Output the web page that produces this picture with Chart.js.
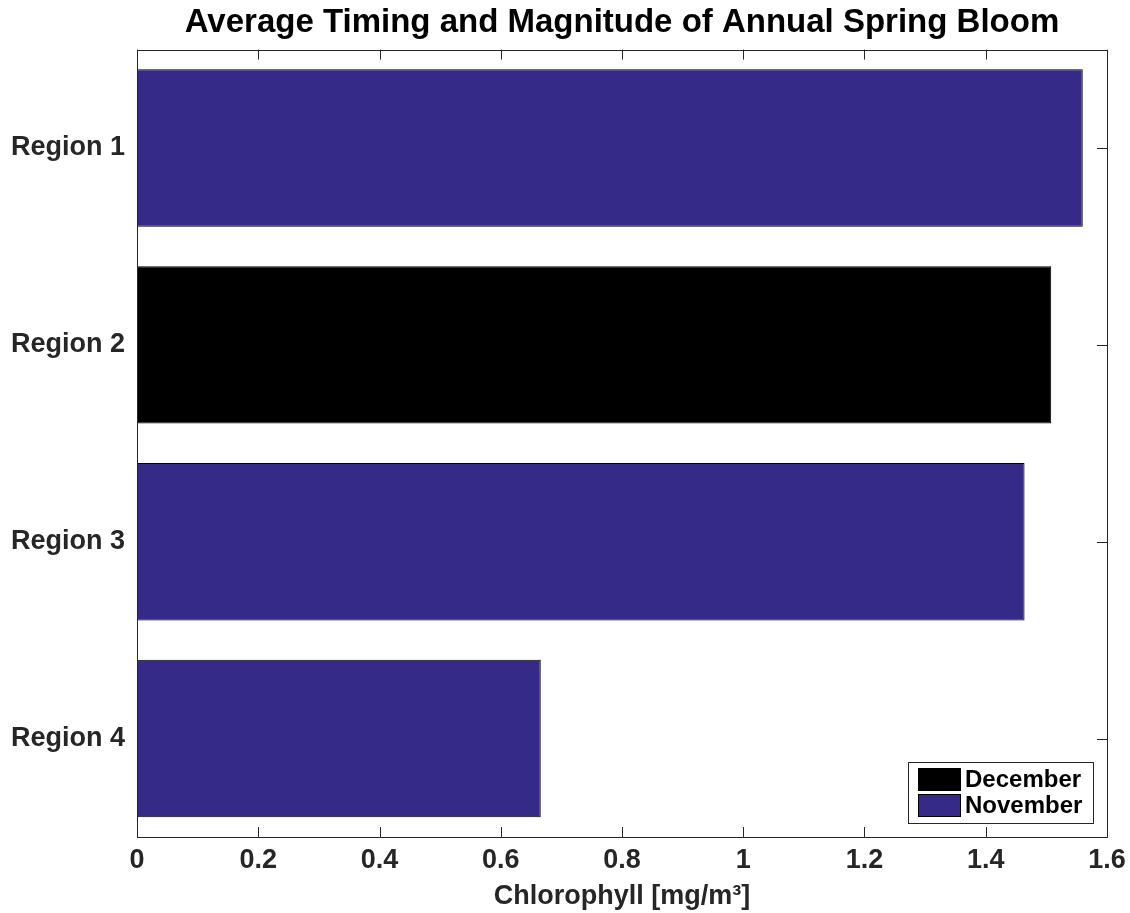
<!DOCTYPE html>
<html>
<head>
<meta charset="utf-8">
<script src="https://cdn.jsdelivr.net/npm/chart.js@4"></script>
<style>
  html, body { margin: 0; padding: 0; background: #fff; }
  #wrap { width: 1130px; height: 913px; }
</style>
</head>
<body>
<div id="wrap"><canvas id="bloomChart" width="1130" height="913"></canvas></div>
<script>
// Chart data
const categories = ['Region 1', 'Region 2', 'Region 3', 'Region 4'];
const chlorophyll = [1.56, 1.508, 1.464, 0.666];
const bloomMonth = ['November', 'December', 'November', 'November'];
const legendMonths = ['December', 'November'];
const monthColors = { December: '#000000', November: '#352a87' };
const xTicks = [0, 0.2, 0.4, 0.6, 0.8, 1, 1.2, 1.4, 1.6];

const FONT = '"Liberation Sans", Arial, Helvetica, sans-serif';
const AXIS_COLOR = '#262626';

/**
 * Centre the title over the plot area instead of the whole canvas
 */
const titleOverAreaPlugin = {
    id: 'titleOverArea',
    afterLayout(chart) {
        const tb = chart.titleBlock;
        if (tb) {
            tb.left = chart.chartArea.left;
            tb.right = chart.chartArea.right;
            tb.width = tb.right - tb.left;
        }
    }
};

/**
 * Box around the plot area plus MATLAB-style inward ticks
 */
const boxTicksPlugin = {
    id: 'boxTicks',
    afterDatasetsDraw(chart) {
        const { ctx, chartArea: a, scales } = chart;
        const len = 10;
        ctx.save();
        ctx.strokeStyle = AXIS_COLOR;
        ctx.lineWidth = 1;
        ctx.beginPath();
        xTicks.forEach(v => {
            const x = Math.round(scales.x.getPixelForValue(v)) + 0.5;
            ctx.moveTo(x, a.bottom); ctx.lineTo(x, a.bottom - len);
            ctx.moveTo(x, a.top); ctx.lineTo(x, a.top + len);
        });
        categories.forEach((c, i) => {
            const y = Math.round(scales.y.getPixelForValue(i)) + 0.5;
            ctx.moveTo(a.right, y); ctx.lineTo(a.right - len, y);
        });
        ctx.stroke();
        ctx.strokeRect(Math.round(a.left) + 0.5, Math.round(a.top) + 0.5,
            Math.round(a.right - a.left), Math.round(a.bottom - a.top));
        ctx.restore();
    }
};

/**
 * Legend drawn inside the lower right corner of the plot area
 */
const insideLegendPlugin = {
    id: 'insideLegend',
    afterDraw(chart) {
        const { ctx, chartArea: a } = chart;
        const w = 185, h = 61;
        const x0 = a.right - 14 - w, y0 = a.bottom - 14 - h;
        ctx.save();
        ctx.fillStyle = '#fff';
        ctx.fillRect(x0, y0, w, h);
        ctx.strokeStyle = AXIS_COLOR;
        ctx.lineWidth = 1;
        ctx.strokeRect(Math.round(x0) + 0.5, Math.round(y0) + 0.5, w, h);
        ctx.font = 'bold 24px ' + FONT;
        ctx.textBaseline = 'middle';
        legendMonths.forEach((m, i) => {
            const cy = y0 + 17 + i * 26;
            ctx.fillStyle = monthColors[m];
            ctx.fillRect(x0 + 10, cy - 11, 42, 22);
            ctx.strokeStyle = '#000';
            ctx.strokeRect(x0 + 10.5, cy - 10.5, 42, 22);
            ctx.fillStyle = '#000';
            ctx.fillText(m, x0 + 57, cy + 1);
        });
        ctx.restore();
    }
};

document.addEventListener('DOMContentLoaded', function() {
    const ctx = document.getElementById('bloomChart').getContext('2d');
    new Chart(ctx, {
        type: 'bar',
        data: {
            labels: categories,
            datasets: [{
                label: 'Chlorophyll',
                data: chlorophyll,
                backgroundColor: bloomMonth.map(m => monthColors[m]),
                borderColor: '#000',
                borderWidth: 1,
                borderSkipped: false,
                barPercentage: 0.8,
                categoryPercentage: 1.0
            }]
        },
        options: {
            indexAxis: 'y',
            responsive: false,
            animation: false,
            layout: { padding: { left: 0, right: 23, top: 0, bottom: 0 } },
            plugins: {
                legend: { display: false },
                tooltip: { enabled: false },
                title: {
                    display: true,
                    text: 'Average Timing and Magnitude of Annual Spring Bloom',
                    color: '#000',
                    font: { family: FONT, size: 33, weight: 'bold', lineHeight: 1.2 },
                    padding: { top: 3, bottom: 7 }
                }
            },
            scales: {
                x: {
                    type: 'linear',
                    min: 0,
                    max: 1.6,
                    afterBuildTicks: scale => { scale.ticks = xTicks.map(v => ({ value: v })); },
                    afterFit: scale => {
                        scale.height = 76;
                        scale.paddingLeft = 0;
                        scale.paddingRight = 0;
                    },
                    grid: { display: false, drawTicks: false },
                    border: { display: false },
                    ticks: {
                        color: AXIS_COLOR,
                        padding: 7,
                        maxRotation: 0,
                        font: { family: FONT, size: 27, weight: 'bold' },
                        callback: v => String(Math.round(v * 10) / 10)
                    },
                    title: {
                        display: true,
                        text: 'Chlorophyll [mg/m³]',
                        color: AXIS_COLOR,
                        font: { family: FONT, size: 27, weight: 'bold', lineHeight: 1.2 },
                        padding: { top: 0, bottom: 0 }
                    }
                },
                y: {
                    afterFit: scale => { scale.width = 137; },
                    grid: { display: false, drawTicks: false },
                    border: { display: false },
                    ticks: {
                        color: AXIS_COLOR,
                        padding: 12,
                        font: { family: FONT, size: 27, weight: 'bold' }
                    }
                }
            }
        },
        plugins: [titleOverAreaPlugin, boxTicksPlugin, insideLegendPlugin]
    });
});
</script>
</body>
</html>
